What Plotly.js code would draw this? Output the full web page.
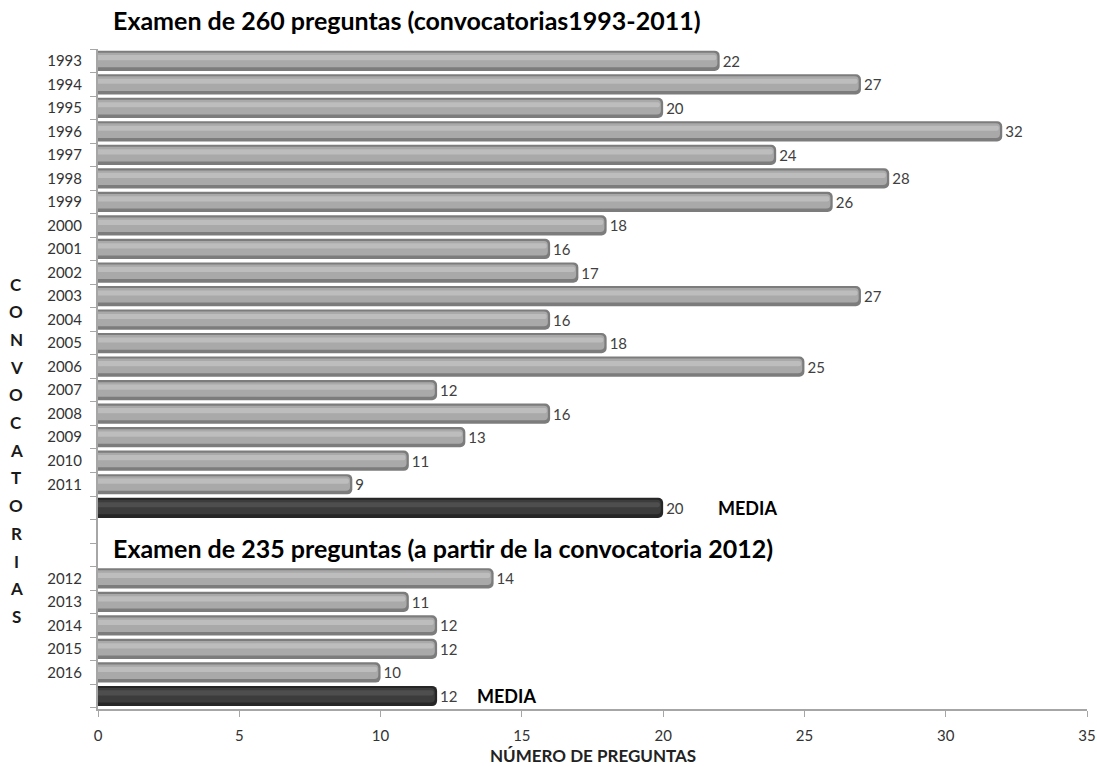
<!DOCTYPE html>
<html><head><meta charset="utf-8">
<script src="https://cdn.plot.ly/plotly-3.0.1.min.js"></script>
<style>html,body{margin:0;padding:0;background:#fff}#chart{width:1097px;height:767px}</style>
</head><body><div id="chart"></div>
<script>
// Data
const categories = ["1993","1994","1995","1996","1997","1998","1999","2000","2001","2002","2003","2004","2005","2006","2007","2008","2009","2010","2011","media1","gap1","gap2","2012","2013","2014","2015","2016","media2"];
const tickLabels = ["1993","1994","1995","1996","1997","1998","1999","2000","2001","2002","2003","2004","2005","2006","2007","2008","2009","2010","2011","","","","2012","2013","2014","2015","2016",""];
const yearCats = ["1993","1994","1995","1996","1997","1998","1999","2000","2001","2002","2003","2004","2005","2006","2007","2008","2009","2010","2011","2012","2013","2014","2015","2016"];
const yearValues = [22,27,20,32,24,28,26,18,16,17,27,16,18,25,12,16,13,11,9,14,11,12,12,10];
const mediaCats = ["media1","media2"];
const mediaValues = [20,12];
const title1 = "Examen de 260 preguntas (convocatorias1993-2011)";
const title2 = "Examen de 235 preguntas (a partir de la convocatoria 2012)";
const yTitle = "CONVOCATORIAS";
const xTitle = "NÚMERO DE PREGUNTAS";

const font = "Lato, 'Open Sans', sans-serif";

function layers(cats, vals, cols, withText) {
  return [
    {type:'bar', orientation:'h', y:cats, x:vals, width:0.86,
     marker:{color:cols[0], cornerradius:5, line:{width:0}},
     text: withText ? vals.map(String) : undefined, textposition:'outside', cliponaxis:false,
     textfont:{family:font, size:15, color:'#404040'}, hoverinfo:'x+y', showlegend:false},
    {type:'bar', orientation:'h', y:cats, x:vals.map(v=>v-0.08), width:0.62, offset:-0.34,
     marker:{color:cols[1], cornerradius:4, line:{width:0}}, hoverinfo:'skip', showlegend:false},
    {type:'bar', orientation:'h', y:cats, x:vals.map(v=>v-0.12), width:0.22, offset:-0.24,
     marker:{color:cols[2], cornerradius:3, line:{width:0}}, hoverinfo:'skip', showlegend:false}
  ];
}

const traces = [].concat(
  layers(yearCats, yearValues, ['#7c7c7c','#a9a9a9','#bdbdbd'], true),
  layers(mediaCats, mediaValues, ['#262626','#3c3c3c','#4e4e4e'], true)
);

const annotations = [
  {text:'<b>'+title1+'</b>', xref:'paper', yref:'paper', x:(111-98)/989, y:(709-20)/660, xanchor:'left', yanchor:'middle', showarrow:false, font:{family:font, size:25, color:'#000'}},
  {text:'<b>'+title2+'</b>', xref:'paper', yref:'paper', x:(111-98)/989, y:(709-548)/660, xanchor:'left', yanchor:'middle', showarrow:false, font:{family:font, size:25, color:'#000'}},
  {text:'<b>MEDIA</b>', xref:'x', yref:'y', x:mediaValues[0]+3, y:mediaCats[0], xanchor:'center', yanchor:'middle', showarrow:false, font:{family:font, size:18, color:'#000'}},
  {text:'<b>MEDIA</b>', xref:'x', yref:'y', x:mediaValues[1]+2.45, y:mediaCats[1], xanchor:'center', yanchor:'middle', showarrow:false, font:{family:font, size:18, color:'#000'}},
  {text:'<b>'+xTitle+'</b>', xref:'paper', yref:'paper', x:0.5, y:(709-755)/660, xanchor:'center', yanchor:'middle', showarrow:false, font:{family:font, size:17, color:'#222'}}
];
const letters = yTitle.split('');
letters.forEach((ch,i)=>{
  annotations.push({text:'<b>'+ch+'</b>', xref:'paper', yref:'paper', x:(16-98)/989, y:(709-(284+i*27.7))/660, xanchor:'center', yanchor:'middle', showarrow:false, font:{family:font, size:17, color:'#1a1a1a'}});
});

const layout = {
  width:1097, height:767,
  margin:{l:98, r:10, t:49, b:58},
  paper_bgcolor:'#fff', plot_bgcolor:'#fff',
  barmode:'overlay',
  showlegend:false,
  xaxis:{range:[0,35], dtick:5, tick0:0, showgrid:false, zeroline:false,
    showline:true, linecolor:'#a6a6a6', linewidth:2, ticks:'outside', ticklen:6, tickcolor:'#a6a6a6', tickwidth:1,
    tickfont:{family:font, size:15, color:'#333'}, ticklabelstandoff:6, fixedrange:true},
  yaxis:{type:'category', categoryorder:'array', categoryarray:categories, tickvals:categories, ticktext:tickLabels,
    autorange:'reversed', range:[27.5,-0.5], showgrid:false, zeroline:false, tickson:'boundaries',
    showline:true, linecolor:'#a6a6a6', linewidth:2, ticks:'outside', ticklen:6, tickcolor:'#a6a6a6', tickwidth:1,
    tickfont:{family:font, size:15, color:'#333'}, ticklabelstandoff:11, fixedrange:true},
  annotations:annotations
};
Plotly.newPlot('chart', traces, layout, {displayModeBar:false, staticPlot:true});
</script></body></html>
